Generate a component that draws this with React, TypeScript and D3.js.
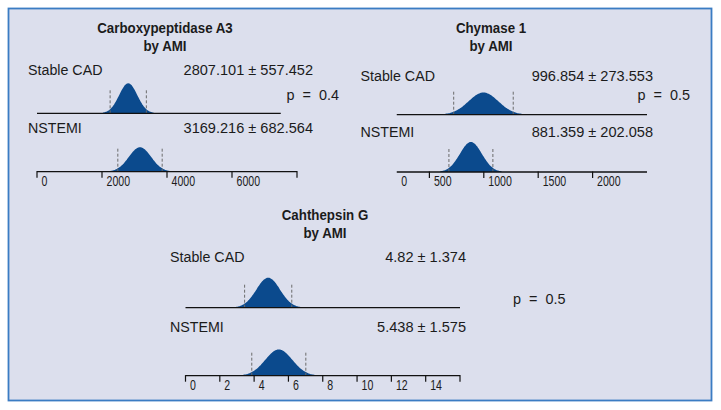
import React from "react";
import * as d3 from "d3";

// ---- data ----
const proteins = ["Carboxypeptidase A3", "Chymase 1", "Cahthepsin G"];
const subtitle = "by AMI";
const groups = ["Stable CAD", "NSTEMI"];
const means = [
  [2807.101, 3169.216],
  [996.854, 881.359],
  [4.82, 5.438],
];
const sds = [
  [557.452, 682.564],
  [273.553, 202.058],
  [1.374, 1.575],
];
const meanLabels = [
  ["2807.101", "3169.216"],
  ["996.854", "881.359"],
  ["4.82", "5.438"],
];
const sdLabels = [
  ["557.452", "682.564"],
  ["273.553", "202.058"],
  ["1.374", "1.575"],
];
const pValues = ["0.4", "0.5", "0.5"];
const axisDomains = [
  [0, 8000],
  [0, 2500],
  [0, 16],
];
const axisLineExtents = [
  [0, 8000],
  [200, 2500],
  [0, 16],
];
const topLineExtents = [
  [0, 7500],
  [200, 2500],
  [0, 16],
];
const tickValues = [
  [0, 2000, 4000, 6000, 8000],
  [500, 1000, 1500, 2000],
  [0, 2, 4, 6, 8, 10, 12, 14, 16],
];
const labelValues = [
  [0, 2000, 4000, 6000],
  [0, 500, 1000, 1500, 2000],
  [0, 2, 4, 6, 8, 10, 12, 14],
];

// ---- layout (positions/styles) ----
const layout = [
  { x0: 37, x1: 297, titleX: 165, titleY: 33, labelX: 28, valueX: 313, y1: 75.3, y2: 133.3, lineY: 113.3, axisY: 171.7, pX: 339, pY: 100, pAnchor: "end" },
  { x0: 375, x1: 647, titleX: 491, titleY: 33, labelX: 360.5, valueX: 653, y1: 80.5, y2: 136.5, lineY: 114.7, axisY: 172, pX: 690, pY: 100, pAnchor: "end" },
  { x0: 185.5, x1: 460, titleX: 325, titleY: 220, labelX: 170, valueX: 466, y1: 262.3, y2: 331.7, lineY: 307.7, axisY: 375.7, pX: 513, pY: 304, pAnchor: "start" },
];

const FONT = "'Liberation Sans', Arial, sans-serif";
const BLUE = "#0b4a8d";
const TEXT = "#1b1b1b";
const PEAK_PX = 30;
const DASH_H = 25;

function SText({ x, y, sx = 1, anchor = "start", size, bold = false, children }: any) {
  return (
    <g transform={`translate(${x},${y}) scale(${sx},1)`}>
      <text x={0} y={0} textAnchor={anchor} fontSize={size} fontWeight={bold ? "bold" : "normal"} style={{ whiteSpace: "pre" }}>
        {children}
      </text>
    </g>
  );
}

function Panel({ i }: { i: number }) {
  const L = layout[i];
  const x = d3.scaleLinear().domain(axisDomains[i]).range([L.x0, L.x1]);
  const drawSd = sds[i].map((s) => s / 2);
  const peaks = drawSd.map((s) => 1 / (s * Math.sqrt(2 * Math.PI)));
  const y = d3.scaleLinear().domain([0, d3.max(peaks) as number]).range([0, PEAK_PX]);
  const baselines = [L.lineY, L.axisY];

  const curves = [0, 1].map((g) => {
    const m = means[i][g];
    const sd = sds[i][g];
    const sdraw = drawSd[g];
    const pts = d3.range(0, 81).map((k) => m - 1.4 * sd + (2.8 * sd * k) / 80);
    const area = d3
      .area<number>()
      .x((v) => x(v))
      .y0(baselines[g])
      .y1((v) => baselines[g] - y(Math.exp(-0.5 * ((v - m) / sdraw) ** 2) / (sdraw * Math.sqrt(2 * Math.PI))))
      .curve(d3.curveBasis);
    return { path: area(pts) as string, m, sd, base: baselines[g] };
  });

  const ax0 = x(axisLineExtents[i][0]);
  const ax1 = x(axisLineExtents[i][1]);

  return (
    <g fontFamily={FONT} fill={TEXT}>
      <SText x={L.titleX} y={L.titleY} anchor="middle" bold size={14.8} sx={0.9}>
        {proteins[i]}
      </SText>
      <SText x={L.titleX} y={L.titleY + 17.5} anchor="middle" bold size={14.8} sx={0.9}>
        {subtitle}
      </SText>
      {[0, 1].map((g) => (
        <g key={g}>
          <SText x={L.labelX} y={g === 0 ? L.y1 : L.y2} size={15.5} sx={0.92}>
            {groups[g]}
          </SText>
          <SText x={L.valueX} y={g === 0 ? L.y1 : L.y2} size={15.5} sx={0.94} anchor="end">
            {meanLabels[i][g] + " ± " + sdLabels[i][g]}
          </SText>
        </g>
      ))}
      <SText x={L.pX} y={L.pY} size={15.5} sx={0.93} anchor={L.pAnchor}>
        {"p  =  " + pValues[i]}
      </SText>
      {curves.map((c, g) => (
        <g key={g}>
          <path d={c.path} fill={BLUE} stroke="none" />
          {[c.m - c.sd, c.m + c.sd].map((v, k) => (
            <line key={k} x1={x(v)} x2={x(v)} y1={c.base} y2={c.base - DASH_H} stroke="#6b6b6b" strokeWidth={1} strokeDasharray="3,2" />
          ))}
        </g>
      ))}
      <line x1={x(topLineExtents[i][0])} x2={x(topLineExtents[i][1])} y1={L.lineY} y2={L.lineY} stroke="#111" strokeWidth={1.3} />
      <line x1={ax0} x2={ax1} y1={L.axisY} y2={L.axisY} stroke="#111" strokeWidth={1.3} />
      {tickValues[i].map((t) => (
        <line key={t} x1={x(t)} x2={x(t)} y1={L.axisY - 0.6} y2={L.axisY + 6} stroke="#111" strokeWidth={1.2} />
      ))}
      {labelValues[i].map((t) => (
        <SText key={t} x={Math.max(x(t), ax0) + 4.5} y={L.axisY + 14} size={14.5} sx={0.73}>
          {String(t)}
        </SText>
      ))}
    </g>
  );
}

export default function App() {
  return (
    <svg width={721} height={410} style={{ position: "absolute", left: 0, top: 0 }}>
      <rect x={0} y={0} width={721} height={410} fill="#ffffff" />
      <rect x={8.5} y={8.5} width={703} height={392} fill="#dcdfed" stroke="#3b7cc3" strokeWidth={1.8} />
      {proteins.map((_, i) => (
        <Panel key={i} i={i} />
      ))}
    </svg>
  );
}
